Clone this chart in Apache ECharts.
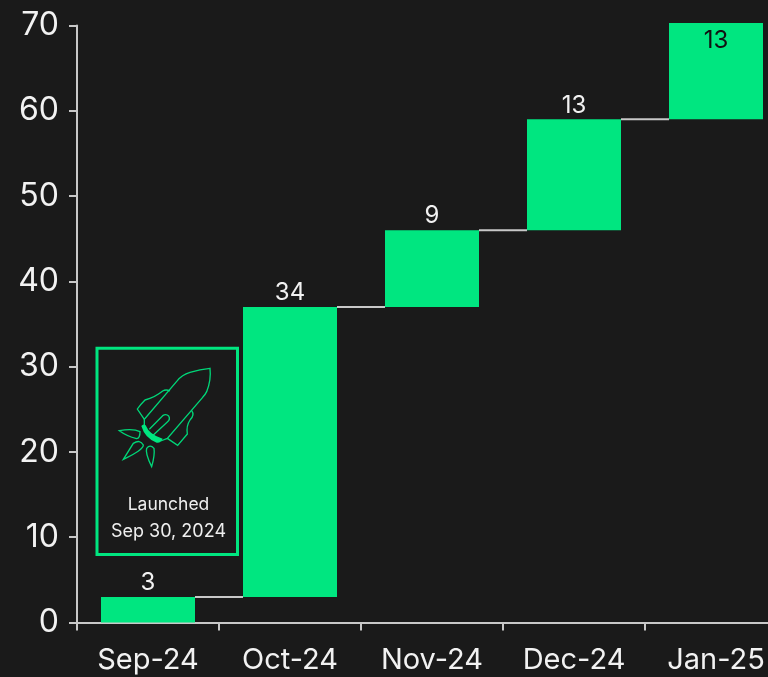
<!DOCTYPE html>
<html>
<head>
<meta charset="utf-8">
<style>html,body{margin:0;padding:0;background:#1a1a1a;overflow:hidden}#chart{width:768px;height:677px}</style>
<script src="https://cdn.jsdelivr.net/npm/echarts@6/dist/echarts.min.js"></script>
</head>
<body>
<div id="chart"></div>
<script>
// Monthly additions, stacked month on month into a running total
const categories = ['Sep-24', 'Oct-24', 'Nov-24', 'Dec-24', 'Jan-25'];
const increments = [3, 34, 9, 13, 13];
const yTicks = [0, 10, 20, 30, 40, 50, 60, 70];

const GREEN = '#00e680';
const AXIS = '#c8c8c8';
const FONT = 'Inter, "Liberation Sans", sans-serif';

// [category index, running base, increment]
const rows = [];
let running = 0;
increments.forEach((v, i) => { rows.push([i, running, v]); running += v; });

// Floating bar, its value label and the connector to the next month.
// Bars are cropped just above the top of the value axis.
function renderStep(params, api) {
  const idx = api.value(0), base = api.value(1), inc = api.value(2);
  const band = api.size([1, 0])[0];
  const barW = band * 0.662;
  const cs = params.coordSys;
  const cx = api.coord([idx, 0])[0];
  const yBase = api.coord([idx, base])[1];
  const yTop = api.coord([idx, base + inc])[1];
  const ceiling = cs.y - 2.5;
  const rect = echarts.graphic.clipRectByRect(
    { x: cx - barW / 2, y: yTop, width: barW, height: yBase - yTop },
    { x: cs.x, y: ceiling, width: cs.width, height: cs.height + 2.5 }
  );
  const cropped = yTop < ceiling;
  const children = [{
    type: 'rect', shape: rect, style: { fill: GREEN }
  }, {
    type: 'text',
    style: {
      text: String(inc), x: cx, y: cropped ? ceiling + 18 : yTop - 14,
      align: 'center', verticalAlign: 'middle',
      font: '24px ' + FONT, fill: cropped ? '#111111' : '#f2f2f2'
    }
  }];
  if (idx < categories.length - 1) {
    children.push({
      type: 'line',
      shape: { x1: cx + barW / 2, y1: yTop, x2: cx + band - barW / 2, y2: yTop },
      style: { stroke: AXIS, lineWidth: 2 }
    });
  }
  return { type: 'group', children };
}

// Launch panel: outlined rocket drawn on a 3x grid, with the launch date underneath
const rocketStroke = { fill: 'none', stroke: '#00d678', lineWidth: 4 };
const rocketPaths = [
  'M163 258 L163 238 L262 122 Q275 105 300 97 Q330 88 360 85 Q364 120 350 155 Q345 165 338 172 L232 295 L212 303',
  'M163 238 L142 207 Q150 195 165 180 Q195 172 218 153 Q228 147 240 153',
  'M305 212 Q315 225 300 240 Q288 258 292 282 L263 316 L232 295',
  'M178 268 L218 227 Q228 220 236 228 Q242 238 232 246 L190 285',
  'M88 272 Q130 265 150 275 Q150 295 140 296 Q110 288 88 272 Z',
  'M100 358 L130 310 Q150 297 160 315 Q160 330 100 358 Z',
  'M185 380 Q165 340 170 325 Q180 312 192 325 Q195 345 185 380 Z'
];
const nozzlePath = 'M154 258 Q160 250 167 256 Q178 285 218 296 Q212 310 200 308 Q165 295 154 258 Z';

function pathElement(name, d, style) {
  echarts.graphic.registerShape(name, echarts.graphic.extendPath(d, {}));
  return { type: name, style, z: 6 };
}

const chart = echarts.init(document.getElementById('chart'), null, { renderer: 'canvas' });

chart.setOption({
  backgroundColor: '#1a1a1a',
  animation: false,
  grid: { left: 77, top: 25.5, width: 710, height: 597, outerBoundsMode: 'none' },
  xAxis: {
    type: 'category',
    data: categories,
    boundaryGap: true,
    axisLine: { lineStyle: { color: AXIS, width: 2 } },
    axisTick: { show: true, alignWithLabel: false, length: 8, lineStyle: { color: AXIS, width: 2 } },
    axisLabel: { color: '#f2f2f2', fontFamily: FONT, fontSize: 29, margin: 23, hideOverlap: false, interval: 0 }
  },
  yAxis: {
    type: 'value',
    min: yTicks[0],
    max: yTicks[yTicks.length - 1],
    interval: 10,
    splitLine: { show: false },
    axisLine: { show: true, lineStyle: { color: AXIS, width: 2 } },
    axisTick: { show: true, length: 8, lineStyle: { color: AXIS, width: 2 } },
    axisLabel: { color: '#f2f2f2', fontFamily: FONT, fontSize: 32, margin: 18, padding: [4, 0, 0, 0] }
  },
  series: [{
    type: 'custom',
    clip: false,
    renderItem: renderStep,
    encode: { x: 0, y: [1, 2] },
    data: rows
  }],
  graphic: [{
    type: 'rect',
    shape: { x: 97, y: 348.2, width: 140.5, height: 206.3 },
    style: { fill: '#1a1a1a', stroke: GREEN, lineWidth: 3 },
    z: 5
  }, {
    type: 'group',
    x: 90, y: 340, scaleX: 1 / 3, scaleY: 1 / 3,
    z: 6,
    children: rocketPaths.map((d, i) => pathElement('rocketPart' + i, d, rocketStroke)).concat([
      pathElement('rocketNozzle', nozzlePath, { fill: GREEN })
    ])
  }, {
    type: 'text', x: 168.5, y: 505, z: 6,
    style: { text: 'Launched', font: '17.5px ' + FONT, fill: '#eeeeee', align: 'center', verticalAlign: 'middle' }
  }, {
    type: 'text', x: 168.5, y: 532, z: 6,
    style: { text: 'Sep 30, 2024', font: '18px ' + FONT, fill: '#eeeeee', align: 'center', verticalAlign: 'middle' }
  }]
});
</script>
</body>
</html>
